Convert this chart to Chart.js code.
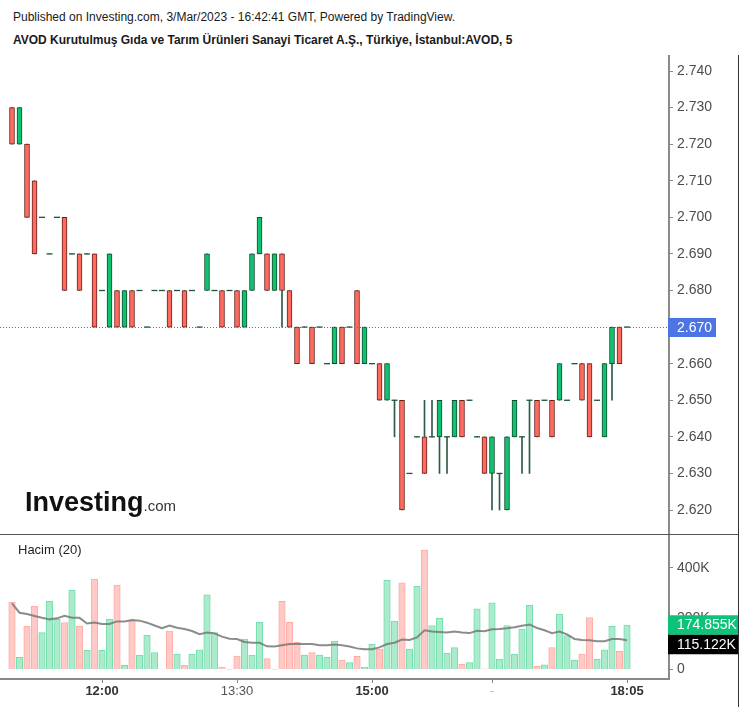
<!DOCTYPE html>
<html><head><meta charset="utf-8">
<script src="https://cdn.jsdelivr.net/npm/chart.js@4.4.0/dist/chart.umd.min.js"></script>
<style>
html,body{margin:0;padding:0;background:#fff;}
#wrap{position:relative;width:747px;height:707px;overflow:hidden;font-family:Arial,'Liberation Sans',sans-serif;background:#fff;}
.t1{position:absolute;left:13px;top:10px;font-size:12px;line-height:14px;color:#1a1a1a;white-space:nowrap;}
.t2{position:absolute;left:13px;top:33px;font-size:12px;line-height:14px;font-weight:bold;color:#1a1a1a;white-space:nowrap;}
#pc{position:absolute;left:0;top:55px;}
#vc{position:absolute;left:0;top:535px;}
.hl{position:absolute;left:0;top:534px;width:739px;height:1px;background:#555;}
.vl{position:absolute;left:738px;top:55px;width:1px;height:652px;background:#333;}
</style></head>
<body><div id="wrap">
<div class="t1">Published on Investing.com, 3/Mar/2023 - 16:42:41 GMT, Powered by TradingView.</div>
<div class="t2">AVOD Kurutulmuş Gıda ve Tarım Ürünleri Sanayi Ticaret A.Ş., Türkiye, İstanbul:AVOD, 5</div>
<canvas id="pc" width="747" height="480"></canvas>
<canvas id="vc" width="747" height="172"></canvas>
<div class="hl"></div><div class="vl"></div>
</div>
<script>
const FONT = "Arial, 'Liberation Sans', sans-serif";

// ---- data (5-minute candles) ----
const openP = [2.73,2.72,2.72,2.71,2.70,2.69,2.70,2.70,2.69,2.69,
 2.69,2.69,2.68,2.67,2.68,2.67,2.68,2.68,2.67,2.68,
 2.68,2.68,2.68,2.68,2.68,2.67,2.68,2.68,2.68,2.68,
 2.68,2.67,2.68,2.69,2.69,2.68,2.69,2.68,2.67,2.67,
 2.67,2.67,2.66,2.66,2.67,2.67,2.68,2.66,2.66,2.66,
 2.65,2.65,2.65,2.63,2.64,2.64,2.64,2.64,2.64,2.64,
 2.65,2.65,2.64,2.64,2.63,2.63,2.62,2.64,2.64,2.65,
 2.65,2.65,2.65,2.65,2.65,2.66,2.66,2.66,2.65,2.64,
 2.66,2.67,2.67];
const highP = [2.73,2.73,2.72,2.71,2.70,2.69,2.70,2.70,2.69,2.69,
 2.69,2.69,2.68,2.69,2.68,2.68,2.68,2.68,2.67,2.68,
 2.68,2.68,2.68,2.68,2.68,2.67,2.69,2.68,2.68,2.68,
 2.68,2.68,2.69,2.70,2.69,2.69,2.69,2.68,2.67,2.67,
 2.67,2.67,2.66,2.67,2.67,2.67,2.68,2.67,2.66,2.66,
 2.66,2.65,2.65,2.63,2.64,2.65,2.65,2.65,2.64,2.65,
 2.65,2.65,2.64,2.64,2.64,2.63,2.64,2.65,2.64,2.65,
 2.65,2.65,2.65,2.66,2.65,2.66,2.66,2.66,2.65,2.66,
 2.67,2.67,2.67];
const lowP = [2.72,2.72,2.70,2.69,2.70,2.69,2.70,2.68,2.69,2.68,
 2.69,2.67,2.68,2.67,2.67,2.67,2.67,2.68,2.67,2.68,
 2.68,2.67,2.68,2.67,2.68,2.67,2.68,2.68,2.67,2.68,
 2.67,2.67,2.68,2.69,2.68,2.68,2.67,2.67,2.66,2.67,
 2.66,2.67,2.66,2.66,2.66,2.67,2.66,2.66,2.66,2.65,
 2.65,2.64,2.62,2.63,2.64,2.63,2.64,2.63,2.63,2.64,
 2.64,2.65,2.64,2.63,2.62,2.62,2.62,2.64,2.63,2.63,
 2.64,2.65,2.64,2.65,2.65,2.66,2.65,2.64,2.65,2.64,
 2.65,2.66,2.67];
const closeP = [2.72,2.73,2.70,2.69,2.70,2.69,2.70,2.68,2.69,2.68,
 2.69,2.67,2.68,2.69,2.67,2.68,2.67,2.68,2.67,2.68,
 2.68,2.67,2.68,2.67,2.68,2.67,2.69,2.68,2.67,2.68,
 2.67,2.68,2.69,2.70,2.68,2.69,2.68,2.67,2.66,2.67,
 2.66,2.67,2.66,2.67,2.66,2.67,2.66,2.67,2.66,2.65,
 2.66,2.65,2.62,2.63,2.64,2.63,2.64,2.65,2.64,2.65,
 2.64,2.65,2.64,2.63,2.64,2.63,2.64,2.65,2.64,2.65,
 2.64,2.65,2.64,2.66,2.65,2.66,2.65,2.64,2.65,2.66,
 2.67,2.66,2.67];
// volume in thousands
const volumeK = [264,48,170,248,145,268,197,184,311,170,
 75,355,75,198,332,16,192,56,134,66,
 2,151,61,16,61,77,293,145,9,1,
 53,120,57,185,43,1,268,185,107,57,
 66,57,48,112,37,27,52,9,100,80,
 350,190,341,80,327,469,173,202,65,86,
 20,27,238,3,262,41,173,61,159,252,
 12,18,86,218,133,37,61,204,41,77,
 170,71,174.855];
// 20-period volume moving average (thousands)
const volMA20K = [260,223,218,210,203,197,201,211,203,203,
 181,185,179,179,189,189,194,192,184,173,
 162,173,164,159,151,139,145,142,129,121,
 120,108,105,105,91,90,95,100,100,100,
 100,95,95,98,95,90,83,80,80,87,
 100,105,118,116,126,154,149,147,145,149,
 145,143,152,150,158,159,162,166,172,177,
 163,154,143,149,138,120,116,115,111,111,
 120,120,115.122];

const xTickPos = [12,30,48,64,82];
const xTickLabels = ['12:00','13:30','15:00','-','18:05'];
const xTickBold = [true,false,true,false,true];
const priceTicks = [2.62,2.63,2.64,2.65,2.66,2.67,2.68,2.69,2.70,2.71,2.72,2.73,2.74];
const volTicksK = [0,200,400];

Chart.defaults.font.family = FONT;
Chart.defaults.animation = false;

const X_MIN = -1.6, X_MAX = 87.6;
const idx = openP.map((_, i) => i);
const isDoji = i => openP[i] === closeP[i];
const up = i => closeP[i] >= openP[i];

const wicks = idx.map(i => ({x: i, y: [lowP[i], highP[i]]}));
const bodies = idx.filter(i => !isDoji(i)).map(i => ({x: i, y: [openP[i], closeP[i]]}));
const dojis = idx.filter(isDoji).map(i => ({x: i, y: closeP[i]}));

const fixY = (w) => (s) => { s.width = w; s.paddingTop = 0; s.paddingBottom = 0; };

const pricePlugin = {
  id: 'priceExtras',
  afterDraw(chart) {
    const {ctx, chartArea: a, scales: {y}} = chart;
    const last = closeP[closeP.length - 1];
    const py = Math.round(y.getPixelForValue(last)) + 0.5;
    ctx.save();
    ctx.strokeStyle = '#3f6ef0'; ctx.lineWidth = 1; ctx.setLineDash([1, 2]);
    ctx.beginPath(); ctx.moveTo(a.left, py); ctx.lineTo(a.right, py); ctx.stroke();
    ctx.setLineDash([]);
    ctx.fillStyle = '#4c74e2'; ctx.fillRect(a.right - 1, py - 9.5, 48, 19);
    ctx.fillStyle = '#fff'; ctx.font = '14px ' + FONT; ctx.textBaseline = 'middle'; ctx.textAlign = 'left';
    ctx.fillText(last.toFixed(3), a.right + 8, py + 0.5);
    ctx.fillStyle = '#111'; ctx.font = 'bold 27px ' + FONT; ctx.textBaseline = 'alphabetic';
    ctx.fillText('Investing', 25, 456);
    const w = ctx.measureText('Investing').width;
    ctx.fillStyle = '#333'; ctx.font = '15px ' + FONT;
    ctx.fillText('.com', 25 + w, 456);
    ctx.restore();
  }
};

new Chart(document.getElementById('pc'), {
  type: 'bar',
  data: {datasets: [
    {type: 'bar', data: wicks, backgroundColor: '#2f5b43', borderWidth: 0, barThickness: 1, grouped: false, order: 3},
    {type: 'bar', data: bodies,
     backgroundColor: c => up(c.raw.x) ? '#0cc36f' : '#ff6a5e',
     borderColor: c => up(c.raw.x) ? '#17492f' : '#66211b',
     borderWidth: 1, borderSkipped: false, barThickness: 5, grouped: false, order: 2},
    {type: 'line', data: dojis, showLine: false, pointStyle: 'line', pointRadius: 3, pointHoverRadius: 3,
     pointBorderColor: '#1f553a', borderColor: '#1f553a', pointBorderWidth: 1.3, order: 1}
  ]},
  options: {
    responsive: false, animation: false, layout: {padding: 0, autoPadding: false},
    plugins: {legend: {display: false}, tooltip: {enabled: false}},
    scales: {
      x: {type: 'linear', min: X_MIN, max: X_MAX, offset: false, grid: {offset: false}, display: false},
      y: {type: 'linear', position: 'right', min: 2.613167, max: 2.744374,
          afterBuildTicks: s => { s.ticks = priceTicks.map(v => ({value: v})); },
          afterFit: fixY(78),
          grid: {drawOnChartArea: false, drawTicks: true, tickLength: 4, color: '#8a8a8a'},
          border: {display: true, color: '#8a8a8a', width: 2},
          ticks: {padding: 4, color: '#4d4d4d', font: {size: 14}, callback: v => Number(v).toFixed(3)}}
    }
  },
  plugins: [pricePlugin]
});

const volPlugin = {
  id: 'volExtras',
  afterDraw(chart) {
    const {ctx, chartArea: a, scales: {y}} = chart;
    const lastV = volumeK[volumeK.length - 1] * 1000;
    const lastM = volMA20K[volMA20K.length - 1] * 1000;
    const vy = y.getPixelForValue(lastV);
    let my = y.getPixelForValue(lastM);
    if (my < vy + 19.5) my = vy + 19.5;
    ctx.save();
    ctx.fillStyle = '#0dc37a'; ctx.fillRect(a.right - 1, vy - 9.75, 70, 19.5);
    ctx.fillStyle = '#000'; ctx.fillRect(a.right - 1, my - 9.75, 70, 19.5);
    ctx.fillStyle = '#fff'; ctx.font = '14px ' + FONT; ctx.textBaseline = 'middle'; ctx.textAlign = 'left';
    ctx.fillText((lastV / 1000).toFixed(3) + 'K', a.right + 8, vy + 0.5);
    ctx.fillText((lastM / 1000).toFixed(3) + 'K', a.right + 8, my + 0.5);
    ctx.fillStyle = '#222'; ctx.font = '13px ' + FONT;
    ctx.fillText('Hacim (20)', 18, 15);
    ctx.restore();
  }
};

new Chart(document.getElementById('vc'), {
  type: 'bar',
  data: {datasets: [
    {type: 'bar', data: idx.map(i => ({x: i, y: volumeK[i] * 1000})),
     backgroundColor: c => up(c.raw.x) ? '#a9ebcb' : '#ffc9c5',
     borderColor: c => up(c.raw.x) ? '#74deae' : '#ffaca6',
     borderWidth: 1, barThickness: 6.5, grouped: false, order: 2},
    {type: 'line', data: idx.map(i => ({x: i, y: volMA20K[i] * 1000})),
     borderColor: 'rgba(120,120,120,0.85)', borderWidth: 2, pointRadius: 0, tension: 0, order: 1}
  ]},
  options: {
    responsive: false, animation: false, layout: {padding: 0, autoPadding: false},
    plugins: {legend: {display: false}, tooltip: {enabled: false}},
    scales: {
      x: {type: 'linear', position: 'bottom', min: X_MIN, max: X_MAX, offset: false,
          afterBuildTicks: s => { s.ticks = xTickPos.map(v => ({value: v})); },
          afterFit: s => { s.height = 28; s.paddingLeft = 0; s.paddingRight = 0; },
          grid: {offset: false, drawOnChartArea: false, drawTicks: true, tickLength: 4, color: '#888'},
          border: {display: true, color: '#888', width: 2},
          ticks: {autoSkip: false, maxRotation: 0, minRotation: 0, padding: 1,
                  font: c => ({size: 13, weight: (c.index != null && xTickBold[c.index]) ? 'bold' : 'normal'}),
                  color: c => (c.index != null && xTickBold[c.index]) ? '#333' : (xTickLabels[c.index] === '-' ? '#bbb' : '#555'),
                  callback: v => { const k = xTickPos.indexOf(v); return k >= 0 ? xTickLabels[k] : ''; }}},
      y: {type: 'linear', position: 'right', min: -37330, max: 528490,
          afterBuildTicks: s => { s.ticks = volTicksK.map(v => ({value: v * 1000})); },
          afterFit: fixY(78),
          grid: {drawOnChartArea: false, drawTicks: true, tickLength: 4, color: '#8a8a8a'},
          border: {display: true, color: '#8a8a8a', width: 2},
          ticks: {padding: 4, color: '#4d4d4d', font: {size: 14},
                  callback: v => v === 0 ? '0' : (v / 1000) + 'K'}}
    }
  },
  plugins: [volPlugin]
});
</script>
</body></html>
